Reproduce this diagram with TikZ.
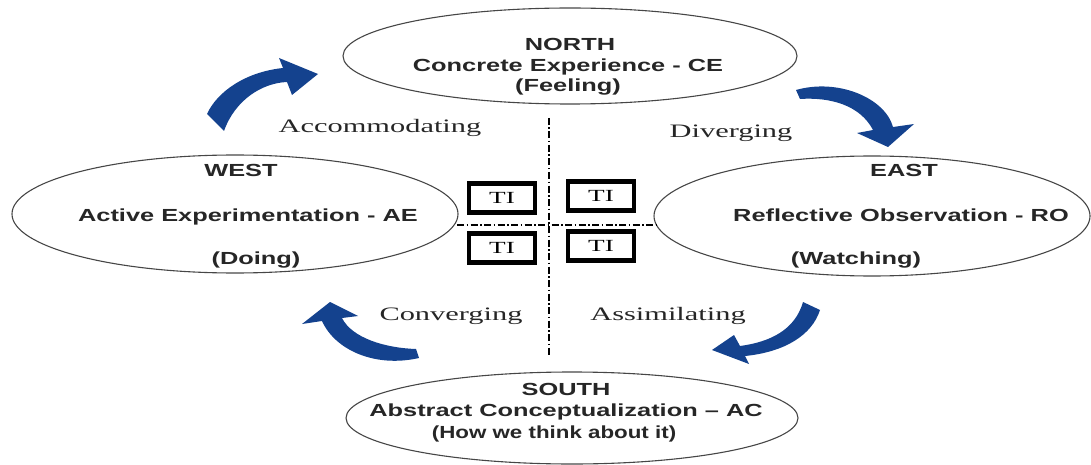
\documentclass[tikz,border=0pt]{standalone}
\usepackage{fontspec}
\setmainfont{Liberation Serif}
\newfontfamily\labelfont[FakeStretch=1.6]{Liberation Serif}
\newfontfamily\headfont[FakeStretch=1.45]{Liberation Sans}
\usetikzlibrary{shapes.geometric}
\definecolor{cyclearrow}{RGB}{20,66,142}
\definecolor{rim}{RGB}{70,70,70}

\begin{document}
\begin{tikzpicture}[x=1pt,y=-1pt,
  stage/.style={draw=rim, line width=1.1pt, ellipse, inner sep=0pt},
  headtext/.style={font=\headfont\bfseries\fontsize{17.5}{20}\selectfont, text=black!85, anchor=base, inner sep=0pt},
  quadtext/.style={font=\labelfont\fontsize{19}{22}\selectfont, text=black!85, anchor=base, inner sep=0pt},
  tibox/.style={draw, line width=4.5pt, minimum width=66pt, minimum height=29pt, inner sep=0pt,
    font=\labelfont\fontsize{17}{19}\selectfont},
  axis/.style={line width=1.1pt, dash pattern=on 7pt off 2.5pt on 1.5pt off 2.5pt},
  turn/.style={fill=cyclearrow}
]
\useasboundingbox (0,0) rectangle (1091,465);

% the four stages of the cycle
\node[stage, minimum width=454pt, minimum height=96pt]  (north) at (570,56)  {};
\node[stage, minimum width=446pt, minimum height=118pt] (west)  at (235,214) {};
\node[stage, minimum width=436pt, minimum height=120pt] (east)  at (872,216) {};
\node[stage, minimum width=452pt, minimum height=92pt]  (south) at (572,418) {};

\node[headtext] (ntitle) at (570,51)  {NORTH};
\node[headtext] (nmain)  at (568,72)  {Concrete Experience - CE};
\node[headtext] (nsub)   at (568,92)  {(Feeling)};

\node[headtext] (wtitle) at (241,176) {WEST};
\node[headtext] (wmain)  at (248,221) {Active Experimentation - AE};
\node[headtext] (wsub)   at (256,264) {(Doing)};

\node[headtext] (etitle) at (904,176) {EAST};
\node[headtext] (emain)  at (901,221) {Reflective Observation - RO};
\node[headtext] (esub)   at (856,264) {(Watching)};

\node[headtext] (stitle) at (566,395) {SOUTH};
\node[headtext] (smain)  at (566,416) {Abstract Conceptualization – AC};
\node[headtext] (ssub)   at (554,438) {\scalebox{0.88}[1]{(How we think about it)}};

% quadrant axes
\coordinate (vtop) at (549,118);
\coordinate (vbot) at (549,357);
\coordinate (hleft) at (457,225);
\coordinate (hright) at (657,225);
\draw[axis] (vtop) -- (vbot);
\draw[axis] (hleft) -- (hright);

% quadrant names
\node[quadtext] (acc) at (380,133) {Accommodating};
\node[quadtext] (div) at (731,138) {Diverging};
\node[quadtext] (con) at (451,320) {Converging};
\node[quadtext] (ass) at (668,320) {Assimilating};

% boxes round the crossing
\node[tibox] (ti1) at (502,198) {TI};
\node[tibox] (ti2) at (601,196) {TI};
\node[tibox] (ti3) at (502,248) {TI};
\node[tibox] (ti4) at (601,246) {TI};

% curved arrows running clockwise round the cycle
\fill[turn] (207,114) .. controls (217,92) and (245,72) .. (283,68) -- (279,58) -- (318,74)
  -- (292,95) -- (287,82) .. controls (262,83) and (235,100) .. (224,131) -- cycle;
\fill[turn] (796,90) .. controls (838,78) and (885,98) .. (893,127) -- (914,124) -- (888,147)
  -- (857,133) -- (873,130) .. controls (860,105) and (830,97) .. (800,99) -- cycle;
\fill[turn] (803,302) -- (820,310) .. controls (812,335) and (785,352) .. (745,356) -- (749,364)
  -- (712,350) -- (734,335) -- (740,346) .. controls (770,342) and (795,330) .. cycle;
\fill[turn] (416,349) -- (419,358) .. controls (375,368) and (335,350) .. (322,321) -- (302,324)
  -- (330,302) -- (358,316) -- (342,318) .. controls (352,338) and (385,348) .. cycle;
\end{tikzpicture}
\end{document}
